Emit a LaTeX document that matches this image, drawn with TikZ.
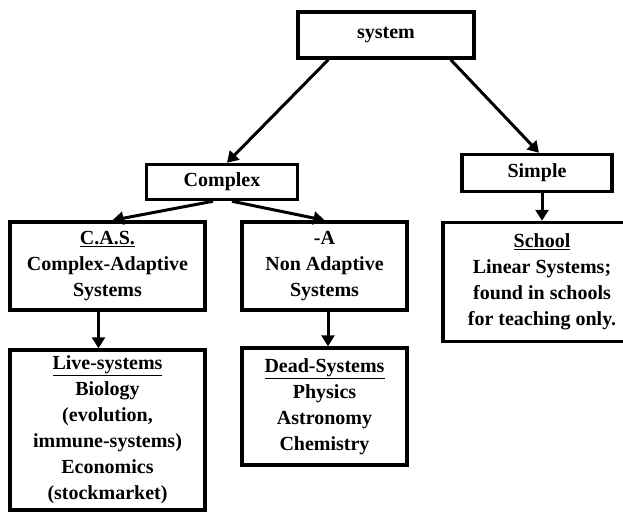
\documentclass[tikz,border=0pt]{standalone}
\usepackage{fontspec}
\setmainfont{Liberation Serif}
\usetikzlibrary{arrows.meta}
\tikzset{
  box/.style={draw, line width=3.5pt, align=center, inner sep=0pt,
    font=\bfseries\fontsize{20}{26}\selectfont},
  link/.style={line width=3pt, -{Triangle[width=13pt,length=11pt]}},
}
\begin{document}
\begin{tikzpicture}[x=1pt, y=-1pt]
      \useasboundingbox (0,0) rectangle (623,512);
      %
      \node[box, minimum width=176pt, minimum height=46pt] (system) at (386,35) {system};   % top
      %
      \node[box, minimum width=151pt, minimum height=35pt] (complex) at (222,182) {Complex}; % second row
      \node[box, minimum width=150pt, minimum height=37pt] (simple) at (537,173) {Simple};
      %%
      \node[box, minimum width=195pt, minimum height=88pt] (cas) at (107.5,266)
        {\underline{C.A.S.}\\Complex-Adaptive\\Systems};                                 % third row
      \node[box, minimum width=165pt, minimum height=88pt] (nonadapt) at (324.5,266)
        {-A\\Non Adaptive\\Systems};
      \node[box, minimum width=198pt, minimum height=119pt] (school) at (542,282)
        {\underline{School}\\Linear Systems;\\found in schools\\for teaching only.};
      %%
      \node[box, minimum width=195pt, minimum height=160pt] (live) at (107.5,430)
        {\underline{Live-systems}\\Biology\\(evolution,\\immune-systems)\\Economics\\(stockmarket)}; % last row
      \node[box, minimum width=165pt, minimum height=117pt] (dead) at (324.5,406.5)
        {\underline{Dead-Systems}\\Physics\\Astronomy\\Chemistry};
      %
      \draw[link] ([xshift=32pt]system.south west) -- ([xshift=5pt]complex.north);  % arrows
      \draw[link] ([xshift=-25pt]system.south east) -- ([xshift=2pt]simple.north);
      \draw[link] ([xshift=-9pt]complex.south) -- ([xshift=5pt]cas.north);
      \draw[link] ([xshift=10pt]complex.south) -- (nonadapt.north);
      \draw[link] ([xshift=5pt]simple.south) -- (school.north);
      \draw[link] ([xshift=-9pt]cas.south) -- ([xshift=-9pt]live.north);
      \draw[link] ([xshift=3.5pt]nonadapt.south) -- ([xshift=3.5pt]dead.north);
      %
    \end{tikzpicture}
\end{document}
